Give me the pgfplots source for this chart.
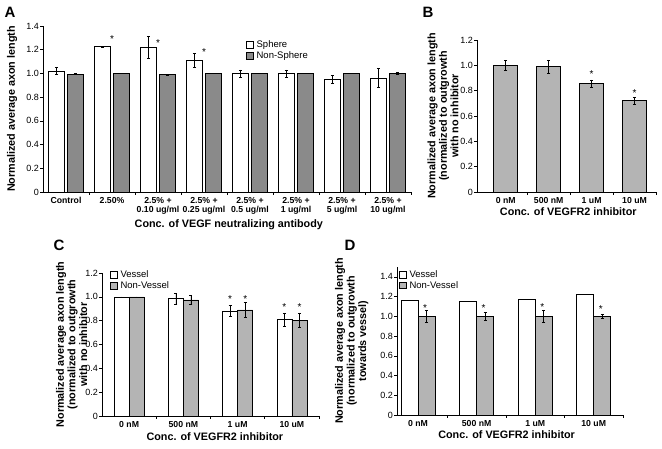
\documentclass[border=0pt]{standalone}
\usepackage{pgfplots}
\pgfplotsset{compat=1.18}
\usepackage{fontspec}
\setmainfont{Liberation Sans}
\definecolor{darkbar}{HTML}{8A8A8A}
\definecolor{lightbar}{HTML}{B4B4B4}
\pgfplotsset{
  myaxis/.style={
    ybar,
    scale only axis,
    axis lines*=left,
    axis line style={line width=0.6pt, black},
    tick align=outside,
    major tick length=3pt,
    minor tick length=3pt,
    tick style={black, line width=0.5pt},
    major x tick style={draw=none},
    ymin=0,
    /pgf/number format/assume math mode=true,
    yticklabel style={font=\fontsize{9}{9}\selectfont, inner sep=1pt},
    xticklabel style={font=\bfseries\fontsize{8.7}{9.6}\selectfont, align=center, inner sep=1pt, yshift=-1pt},
    label style={font=\bfseries\fontsize{10.8}{11.6}\selectfont},
    xlabel style={anchor=center},
    ylabel style={anchor=center, align=center},
    clip=false,
    legend style={draw=none, fill=none, inner sep=0pt, font=\fontsize{9.5}{10}\selectfont, row sep=0.5pt, nodes={inner sep=1pt}, anchor=north west, /tikz/every odd column/.append style={column sep=2pt}},
    legend cell align=left,
  },
  sq/.style={legend image code/.code={\draw[##1, draw=black, line width=0.5pt] (0pt,-3.3pt) rectangle (6.8pt,3.3pt);}},
  barbase/.style={draw=black, line width=0.6pt},
  errs/.style={error bars/y dir=both, error bars/y explicit, error bars/error bar style={black, line width=0.6pt}, error bars/error mark options={rotate=90, mark size=1.6pt, black, line width=0.6pt}},
  star/.style={draw=none, fill=none, bar shift=0pt, forget plot, nodes near coords={*}, nodes near coords style={anchor=center, font=\fontsize{10}{10}\selectfont, inner sep=0pt}},
}
\begin{document}
\begin{tikzpicture}
\useasboundingbox (0,0) rectangle (662pt,449pt);
\fill[white] (0,0) rectangle (662pt,449pt);
% Panel A
\begin{axis}[myaxis, at={(43pt,257pt)}, anchor=south west, width=368pt, height=166pt,
  xmin=-0.5, xmax=7.5, ymax=1.4,
  xtick={0,1,2,3,4,5,6,7},
  xticklabels={Control, 2.50\%, {2.5\% +\\0.10 ug/ml}, {2.5\% +\\0.25 ug/ml}, {2.5\% +\\0.5 ug/ml}, {2.5\% +\\1 ug/ml}, {2.5\% +\\5 ug/ml}, {2.5\% +\\10 ug/ml}},
  minor xtick={0.5,1.5,2.5,3.5,4.5,5.5,6.5,7.5},
  ytick={0,0.2,0.4,0.6,0.8,1,1.2,1.4},
  yticklabels={0,0.2,0.4,0.6,0.8,1.0,1.2,1.4},
  xlabel={Conc. of VEGF neutralizing antibody},
  ylabel={Normalized average axon length},
  xlabel style={at={(axis description cs:0.505,-0.196)}},
  ylabel style={at={(axis description cs:-0.084,0.5)}},
  legend style={at={(axis description cs:0.552,0.919)}},
]
\addplot[barbase, errs, fill=white, bar width=16pt, bar shift=-9.5pt, sq] coordinates {
  (0,1.02) +- (0,0.03) (1,1.225) +- (0,0.006) (2,1.22) +- (0,0.09) (3,1.11) +- (0,0.06)
  (4,1.0) +- (0,0.03) (5,1.0) +- (0,0.03) (6,0.95) +- (0,0.03) (7,0.96) +- (0,0.08)};
\addlegendentry{Sphere}
\addplot[barbase, errs, fill=darkbar, bar width=16pt, bar shift=9.5pt, sq] coordinates {
  (0,0.995) +- (0,0.003) (1,1.0) +- (0,0.003) (2,0.99) +- (0,0.003) (3,1.0) +- (0,0.003)
  (4,1.0) +- (0,0.003) (5,1.0) +- (0,0.003) (6,1.0) +- (0,0.003) (7,1.0) +- (0,0.006)};
\addlegendentry{Non-Sphere}
\addplot[star] coordinates {(1,1.29) (2,1.255) (3,1.18)};
\end{axis}
% Panel B
\begin{axis}[myaxis, at={(477pt,257pt)}, anchor=south west, width=179pt, height=152pt,
  xmin=-0.67, xmax=3.5, ymax=1.2,
  xtick={0,1,2,3}, xticklabels={0 nM, 500 nM, 1 uM, 10 uM},
  minor xtick={0.5,1.5,2.5,3.5},
  ytick={0,0.2,0.4,0.6,0.8,1,1.2},
  yticklabels={0,0.2,0.4,0.6,0.8,1.0,1.2},
  xlabel={Conc. of VEGFR2 inhibitor},
  ylabel={Normalized average axon length\\(normalized to outgrowth\\with no inhibitor},
  xlabel style={at={(axis description cs:0.51,-0.13)}},
  ylabel style={at={(axis description cs:-0.19,0.5)}},
]
\addplot[barbase, errs, fill=lightbar, bar width=24pt, bar shift=0pt] coordinates {
  (0,1.0) +- (0,0.04) (1,0.99) +- (0,0.05) (2,0.855) +- (0,0.03) (3,0.72) +- (0,0.025)};
\addplot[star] coordinates {(2,0.93) (3,0.78)};
\end{axis}
% Panel C
\begin{axis}[myaxis, at={(102pt,33pt)}, anchor=south west, width=217pt, height=143pt,
  xmin=-0.5, xmax=3.5, ymax=1.2,
  xtick={0,1,2,3}, xticklabels={0 nM, 500 nM, 1 uM, 10 uM},
  minor xtick={0.5,1.5,2.5,3.5},
  ytick={0,0.2,0.4,0.6,0.8,1,1.2},
  yticklabels={0,0.2,0.4,0.6,0.8,1.0,1.2},
  xlabel={Conc. of VEGFR2 inhibitor},
  ylabel={Normalized average axon length\\(normalized to outgrowth\\with no inhibitor},
  xlabel style={at={(axis description cs:0.52,-0.147)}},
  ylabel style={at={(axis description cs:-0.14,0.5)}},
  legend style={at={(axis description cs:0.037,1.024)}},
]
\addplot[barbase, errs, fill=white, bar width=15pt, bar shift=-7.5pt, sq] coordinates {
  (0,1.0) +- (0,0) (1,0.985) +- (0,0.045) (2,0.88) +- (0,0.045) (3,0.81) +- (0,0.055)};
\addlegendentry{Vessel}
\addplot[barbase, errs, fill=lightbar, bar width=15pt, bar shift=7.5pt, sq] coordinates {
  (0,1.0) +- (0,0) (1,0.975) +- (0,0.04) (2,0.89) +- (0,0.06) (3,0.805) +- (0,0.06)};
\addlegendentry{Non-Vessel}
\addplot[star] coordinates {(1.86,0.98) (2.14,0.98) (2.86,0.91) (3.14,0.91)};
\end{axis}
% Panel D
\begin{axis}[myaxis, at={(397pt,34pt)}, anchor=south west, width=226pt, height=148pt,
  xmin=-0.36, xmax=3.5, ymax=1.5,
  xtick={0,1,2,3}, xticklabels={0 nM, 500 nM, 1 uM, 10 uM},
  minor xtick={0.5,1.5,2.5,3.5},
  ytick={0,0.2,0.4,0.6,0.8,1,1.2,1.4},
  yticklabels={0,0.2,0.4,0.6,0.8,1.0,1.2,1.4},
  xlabel={Conc. of VEGFR2 inhibitor},
  ylabel={Normalized average axon length\\(normalized to outgrowth\\towards vessel)},
  xlabel style={at={(axis description cs:0.485,-0.135)}},
  ylabel style={at={(axis description cs:-0.2,0.5)}},
  legend style={at={(axis description cs:0.009,0.986)}},
]
\addplot[barbase, fill=white, bar width=17pt, bar shift=-8.5pt, sq] coordinates {
  (0,1.165) (1,1.155) (2,1.175) (3,1.225)};
\addlegendentry{Vessel}
\addplot[barbase, errs, fill=lightbar, bar width=17pt, bar shift=8.5pt, sq] coordinates {
  (0,1.0) +- (0,0.06) (1,1.0) +- (0,0.04) (2,1.0) +- (0,0.06) (3,1.0) +- (0,0.025)};
\addlegendentry{Non-Vessel}
\addplot[star] coordinates {(0.12,1.085) (1.12,1.085) (2.12,1.095) (3.12,1.075)};
\end{axis}
\node[font=\bfseries\fontsize{15}{15}\selectfont] at (10pt,437pt) {A};
\node[font=\bfseries\fontsize{15}{15}\selectfont] at (428pt,437pt) {B};
\node[font=\bfseries\fontsize{15}{15}\selectfont] at (59pt,204pt) {C};
\node[font=\bfseries\fontsize{15}{15}\selectfont] at (350pt,204pt) {D};
\end{tikzpicture}
\end{document}
